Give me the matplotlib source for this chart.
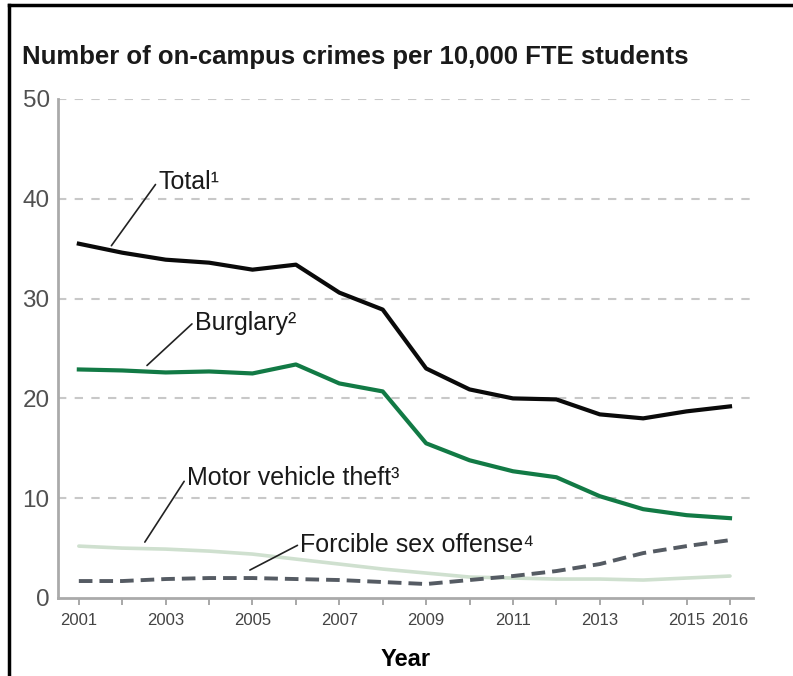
import matplotlib
matplotlib.use('Agg')
import matplotlib.pyplot as plt
from matplotlib.lines import Line2D

plt.rcParams['font.family'] = ['Liberation Sans', 'DejaVu Sans']

# data
years = list(range(2001, 2017))
total = [35.5, 34.6, 33.9, 33.6, 32.9, 33.4, 30.6, 28.9, 23.0, 20.9, 20.0, 19.9, 18.4, 18.0, 18.7, 19.2]
burglary = [22.9, 22.8, 22.6, 22.7, 22.5, 23.4, 21.5, 20.7, 15.5, 13.8, 12.7, 12.1, 10.2, 8.9, 8.3, 8.0]
motor_theft = [5.2, 5.0, 4.9, 4.7, 4.4, 3.9, 3.4, 2.9, 2.5, 2.1, 2.0, 1.9, 1.9, 1.8, 2.0, 2.2]
sex_offense = [1.7, 1.7, 1.9, 2.0, 2.0, 1.9, 1.8, 1.6, 1.4, 1.8, 2.2, 2.7, 3.4, 4.5, 5.2, 5.8]

year_labels = ['2001', '', '2003', '', '2005', '', '2007', '', '2009', '', '2011', '', '2013', '', '2015', '2016']
y_ticks = [0, 10, 20, 30, 40, 50]

fig = plt.figure(figsize=(7.93, 6.76), dpi=100)
ax = fig.add_axes([58 / 793, 1 - 598 / 676, (753 - 58) / 793, (598 - 99) / 676])

# gridlines
for v in y_ticks[1:]:
    ax.axhline(v, color='#c8c8c8', lw=1.5, ls=(0, (4, 4)), zorder=0)

ax.plot(years, motor_theft, color='#cfe0cf', lw=2.6, solid_capstyle='round', zorder=2)
ax.plot(years, sex_offense, color='#555b63', lw=2.8, ls=(0, (3.5, 1.8)), zorder=3)
ax.plot(years, burglary, color='#127a45', lw=3.0, solid_joinstyle='round', zorder=4)
ax.plot(years, total, color='#0a0a0a', lw=3.0, solid_joinstyle='round', zorder=5)

ax.set_xlim(2000.52, 2016.53)
ax.set_ylim(0, 50)

ax.set_xticks(years)
ax.set_xticklabels(year_labels, fontsize=12, color='#444444')
ax.tick_params(axis='x', length=5, width=1.2, color='#999999', pad=6)
ax.set_yticks(y_ticks)
ax.set_yticklabels([str(v) for v in y_ticks], fontsize=17.5, color='#505050')
ax.tick_params(axis='y', length=0, pad=6)

for s in ['top', 'right']:
    ax.spines[s].set_visible(False)
for s in ['left', 'bottom']:
    ax.spines[s].set_color('#aaaaaa')
    ax.spines[s].set_linewidth(2)

ax.set_xlabel('Year', fontsize=17, fontweight='bold', labelpad=14)

# labels with leader lines
arrow = dict(arrowstyle='-', color='#222222', lw=1.2, shrinkA=0, shrinkB=0, relpos=(0, 0.55))
ax.annotate('Total¹', xy=(2001.75, 35.3), xytext=(2002.83, 41.7), fontsize=18,
            va='center', ha='left', color='#1a1a1a', arrowprops=arrow)
ax.annotate('Burglary²', xy=(2002.57, 23.3), xytext=(2003.67, 27.6), fontsize=18,
            va='center', ha='left', color='#1a1a1a', arrowprops=arrow)
ax.annotate('Motor vehicle theft³', xy=(2002.52, 5.6), xytext=(2003.49, 12.0), fontsize=18,
            va='center', ha='left', color='#1a1a1a', arrowprops=arrow)
ax.annotate('Forcible sex offense⁴', xy=(2004.94, 2.8), xytext=(2006.1, 5.3), fontsize=18,
            va='center', ha='left', color='#1a1a1a', arrowprops=arrow)

fig.text(22 / 793, 1 - 57 / 676, 'Number of on-campus crimes per 10,000 FTE students',
         fontsize=18.5, fontweight='bold', va='center', ha='left', color='#1a1a1a')

# frame around the picture
fig.add_artist(Line2D([9 / 793, 9 / 793], [0, 1 - 5 / 676], transform=fig.transFigure, color='black', lw=2.5))
fig.add_artist(Line2D([9 / 793, 1], [1 - 5 / 676, 1 - 5 / 676], transform=fig.transFigure, color='black', lw=2.5))

fig.savefig('out.png', dpi=100)
